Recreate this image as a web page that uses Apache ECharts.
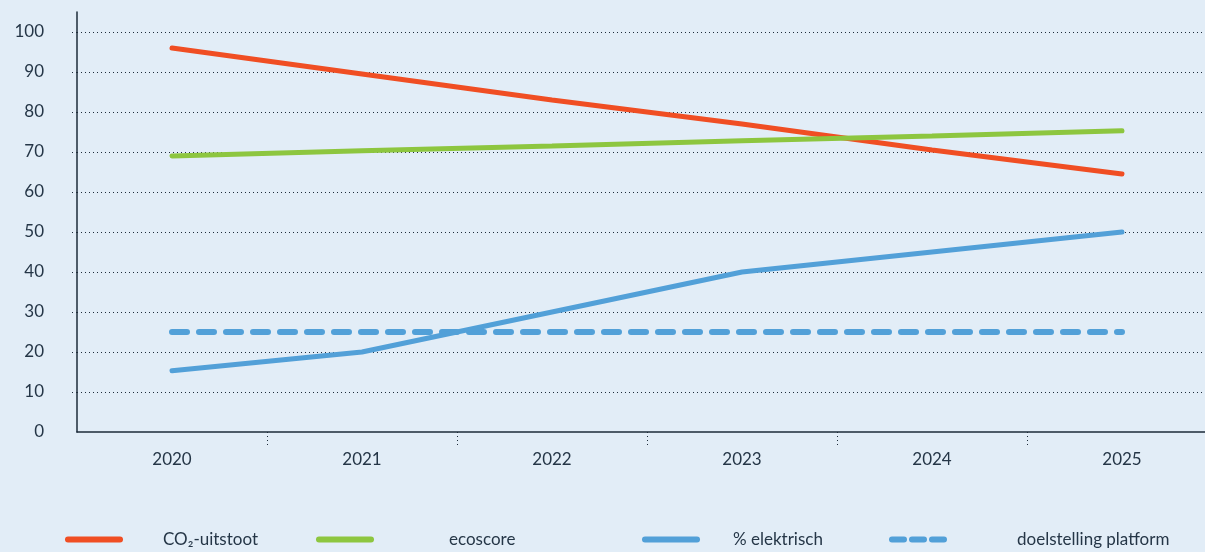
<!DOCTYPE html>
<html lang="nl">
<head>
    <meta charset="UTF-8">
    <title>CO2 en elektrisch</title>
    <script src="https://cdn.jsdelivr.net/npm/echarts@6/dist/echarts.min.js"></script>
    <style>
        html, body { margin: 0; padding: 0; background: #e2edf7; }
    </style>
</head>
<body>
    <div id="chart" style="width: 1205px; height: 552px;"></div>
    <script>
        var jaren = ["2020", "2021", "2022", "2023", "2024", "2025"];
        var co2 = [96, 89.5, 83, 77, 70.5, 64.5];
        var ecoscore = [69, 70.3, 71.5, 72.8, 74, 75.3];
        var elektrisch = [15.3, 20, 30, 40, 45, 50];
        var doelstelling = [25, 25, 25, 25, 25, 25];
        var yTicks = [10, 20, 30, 40, 50, 60, 70, 80, 90, 100];

        var tekst = "#253647";
        var font = "Lato";

        // capsule shaped legend icons (solid and three dashes)
        function capsule(x0, x1) {
            return "M" + (x0 + 3) + ",0 L" + (x1 - 3) + ",0 A3,3 0 0 1 " + (x1 - 3) + ",6 L" +
                (x0 + 3) + ",6 A3,3 0 0 1 " + (x0 + 3) + ",0 Z ";
        }
        var iconVol = "path://" + capsule(0, 58);
        var iconStreep = "path://" + capsule(0, 18) + capsule(20, 38) + capsule(40, 58);

        var chart = echarts.init(document.getElementById("chart"));

        function legendaItem(naam, links, tussenruimte, icoon) {
            return {
                data: [{ name: naam, icon: icoon }],
                left: links,
                top: 526,
                itemWidth: 58,
                itemHeight: 6,
                textStyle: { color: tekst, fontSize: 17, fontFamily: font, padding: [0, 0, 0, tussenruimte] },
                selectedMode: false
            };
        }

        function lijn(naam, data, kleur, gestreept) {
            return {
                name: naam,
                type: "line",
                data: data,
                symbol: "none",
                lineStyle: {
                    color: kleur,
                    width: gestreept ? 6 : 5,
                    cap: "round",
                    type: gestreept ? [15, 12] : "solid"
                },
                itemStyle: { color: kleur },
                z: gestreept ? 2 : 3
            };
        }

        var option = {
            backgroundColor: "#e2edf7",
            animation: false,
            grid: { left: 77, top: 12, bottom: 120, width: 1140, outerBoundsMode: "none", containLabel: false },
            legend: [
                legendaItem("CO₂-uitstoot", 60, 35, iconVol),
                legendaItem("ecoscore", 311, 70, iconVol),
                legendaItem("% elektrisch", 637, 28, iconVol),
                legendaItem("doelstelling platform", 884, 65, iconStreep)
            ],
            xAxis: {
                type: "category",
                data: jaren,
                boundaryGap: true,
                axisLine: { show: true, lineStyle: { color: "#1d2b3a", width: 1.5 } },
                axisTick: {
                    show: true,
                    length: 13,
                    interval: function (i) { return i !== 0; },
                    lineStyle: { color: "#1d2b3a", width: 1, type: [1, 3] }
                },
                axisLabel: { color: tekst, fontSize: 17, fontFamily: font, margin: 19 }
            },
            yAxis: {
                type: "value",
                min: 0,
                max: 105,
                interval: 10,
                axisLine: { show: true, lineStyle: { color: "#1d2b3a", width: 1.5 } },
                axisTick: {
                    show: true, length: 7, customValues: yTicks,
                    lineStyle: { color: "#1d2b3a", width: 1, type: [1, 3] }
                },
                axisLabel: {
                    color: tekst, fontSize: 17, fontFamily: font, margin: 33,
                    formatter: function (v) { return v > 100 ? "" : v; }
                },
                splitLine: {
                    show: true,
                    showMaxLine: true,
                    showMinLine: true,
                    lineStyle: { color: "#1d2b3a", type: [1, 3] }
                }
            },
            series: [
                lijn("CO₂-uitstoot", co2, "#f04e23", false),
                lijn("ecoscore", ecoscore, "#8dc63f", false),
                lijn("% elektrisch", elektrisch, "#52a0d8", false),
                lijn("doelstelling platform", doelstelling, "#52a0d8", true)
            ]
        };
        chart.setOption(option);
    </script>
</body>
</html>
